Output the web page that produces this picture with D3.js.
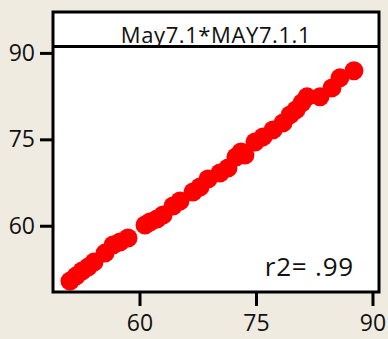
<!DOCTYPE html>
<html>
<head>
<meta charset="utf-8">
<script src="https://cdn.jsdelivr.net/npm/d3@7"></script>
<style>
  body { margin: 0; background: #efebe1; }
  svg { display: block; }
  text { font-family: "Open Sans", "Liberation Sans", sans-serif; fill: #111; }
</style>
</head>
<body>
<svg id="chart" width="388" height="339"></svg>
<script>
// values
const xVals = [51.05, 51.82, 52.6, 53.37, 54.14, 55.56, 56.59, 57.49, 58.52, 60.71,
  61.35, 62.25, 63.03, 64.31, 65.21, 66.89, 67.79, 68.82, 70.36, 71.39,
  72.42, 73.07, 73.58, 74.87, 75.9, 77.19, 78.48, 79.38, 80.15, 80.92,
  81.57, 83.24, 84.78, 85.81, 87.61];
const yVals = [50.39, 51.26, 52.13, 52.82, 53.69, 55.25, 56.65, 57.17, 57.86, 60.12,
  60.64, 61.16, 61.86, 63.42, 64.29, 65.86, 66.73, 68.12, 69.16, 70.03,
  71.94, 72.81, 72.29, 74.55, 75.42, 76.64, 77.85, 79.24, 80.11, 81.33,
  82.37, 82.37, 83.93, 85.67, 86.89];
const xTicks = [60, 75, 90];
const yTicks = [60, 75, 90];
const title = "May7.1*MAY7.1.1";
const fitLabel = "r2= .99";

const svg = d3.select("#chart");
const box = { left: 53, top: 12, right: 379, bottom: 292 };
const titleLine = 46.5;

const x = d3.scaleLinear().domain([48.86, 90.84]).range([box.left, box.right]);
const y = d3.scaleLinear().domain([48.5, 97.1]).range([box.bottom, box.top]);

const points = xVals.map((d, i) => ({ x: d, y: yVals[i] }));

// plot background
svg.append("rect")
  .attr("x", box.left).attr("y", box.top)
  .attr("width", box.right - box.left).attr("height", box.bottom - box.top)
  .attr("fill", "#fff");

svg.append("g")
  .selectAll("circle")
  .data(points)
  .join("circle")
  .attr("cx", d => x(d.x))
  .attr("cy", d => y(d.y))
  .attr("r", 9.5)
  .attr("fill", "#ff0000");

// title band
svg.append("rect")
  .attr("x", box.left).attr("y", box.top)
  .attr("width", box.right - box.left).attr("height", titleLine - box.top)
  .attr("fill", "#fff");
svg.append("text")
  .attr("x", (box.left + box.right) / 2)
  .attr("y", 43)
  .attr("text-anchor", "middle")
  .attr("font-size", 22)
  .attr("letter-spacing", 0.6)
  .text(title);
svg.append("line")
  .attr("x1", box.left).attr("x2", box.right)
  .attr("y1", titleLine).attr("y2", titleLine)
  .attr("stroke", "#000").attr("stroke-width", 3);

svg.append("text")
  .attr("x", 354).attr("y", 276)
  .attr("text-anchor", "end")
  .attr("font-size", 26)
  .attr("letter-spacing", 0.8)
  .text(fitLabel);

// frame
svg.append("rect")
  .attr("x", box.left).attr("y", box.top)
  .attr("width", box.right - box.left).attr("height", box.bottom - box.top)
  .attr("fill", "none")
  .attr("stroke", "#000").attr("stroke-width", 3);

const xAxis = svg.append("g")
  .attr("transform", `translate(0,${box.bottom})`)
  .call(d3.axisBottom(x).tickValues(xTicks).tickSize(14).tickPadding(9));
const yAxis = svg.append("g")
  .attr("transform", `translate(${box.left},0)`)
  .call(d3.axisLeft(y).tickValues(yTicks).tickSize(13).tickPadding(5));

[xAxis, yAxis].forEach(g => {
  g.select(".domain").remove();
  g.selectAll(".tick line").attr("stroke", "#000").attr("stroke-width", 3);
  g.selectAll(".tick text")
    .attr("font-size", 23)
    .attr("font-family", "'Open Sans', 'Liberation Sans', sans-serif")
    .attr("fill", "#111");
});
</script>
</body>
</html>
